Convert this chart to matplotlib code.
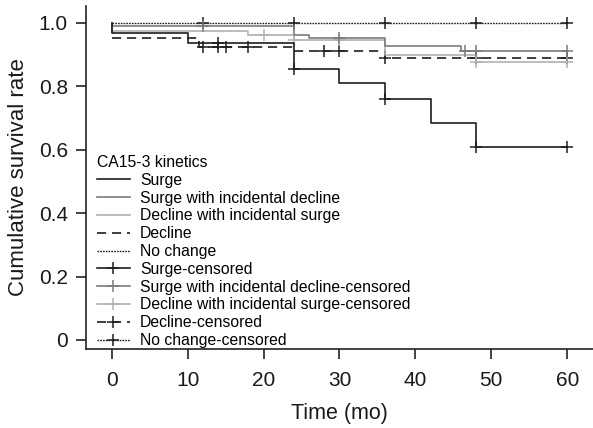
import matplotlib
matplotlib.use("Agg")
import matplotlib.pyplot as plt
from matplotlib.lines import Line2D
import numpy as np

plt.rcParams['font.family'] = ['Liberation Sans', 'DejaVu Sans']

# ---- data ----
surge_t = [0, 0, 10, 24, 30, 36, 42, 48, 60]
surge_s = [1.0, 0.967, 0.935, 0.854, 0.809, 0.760, 0.684, 0.608, 0.608]
surge_c = [14, 24, 36, 48, 60]

sid_t = [0, 0, 24, 26, 36, 46, 60]
sid_s = [1.0, 0.990, 0.961, 0.951, 0.927, 0.912, 0.912]
sid_c = [12, 30, 46.5, 48, 60]

dis_t = [0, 0, 18, 24, 36, 48, 60]
dis_s = [1.0, 0.975, 0.961, 0.945, 0.900, 0.877, 0.877]
dis_c = [20, 24, 30, 48, 60]

dec_t = [0, 0, 11.5, 24, 36, 60]
dec_s = [1.0, 0.951, 0.925, 0.912, 0.888, 0.888]
dec_c = [12, 14, 15, 18, 28, 30, 36, 48, 60]

noc_t = [0, 60]
noc_s = [1.0, 1.0]
noc_c = [12, 24, 36, 48, 60]

x_ticks = [0, 10, 20, 30, 40, 50, 60]
y_ticks = [0, 0.2, 0.4, 0.6, 0.8, 1.0]
y_ticklabels = ['0', '0.2', '0.4', '0.6', '0.8', '1.0']

labels = ['Surge', 'Surge with incidental decline', 'Decline with incidental surge',
          'Decline', 'No change']

# ---- style ----
c_surge = '#1e1e1e'
c_sid = '#7c7c7c'
c_dis = '#b2b2b2'
c_dec = '#1e1e1e'
c_noc = '#1e1e1e'
ls_dash = (0, (5.5, 3.5))
ls_dot = (0, (1.2, 0.8))

series = [
    (surge_t, surge_s, surge_c, c_surge, '-', 1.2),
    (sid_t, sid_s, sid_c, c_sid, '-', 1.2),
    (dis_t, dis_s, dis_c, c_dis, '-', 1.2),
    (dec_t, dec_s, dec_c, c_dec, ls_dash, 1.2),
    (noc_t, noc_s, noc_c, c_noc, ls_dot, 1.0),
]

fig = plt.figure(figsize=(5.93, 4.28), dpi=100)
ax = fig.add_axes([0.145, 0.185, 0.855, 0.801])

def step_val(ts, ss, t):
    v = ss[0]
    for ti, si in zip(ts, ss):
        if ti <= t:
            v = si
    return v

for ts, ss, cs, col, ls, lw in series[::-1]:
    ax.plot(ts, ss, drawstyle='steps-post', color=col, linestyle=ls, lw=lw)
    cy = [step_val(ts, ss, c) for c in cs]
    ax.plot(cs, cy, linestyle='none', marker='+', color=col, ms=8, mew=1.1)

ax.set_xlim(-3.4, 63.4)
ax.set_ylim(-0.028, 1.053)
ax.set_xticks(x_ticks)
ax.set_yticks(y_ticks)
ax.set_yticklabels(y_ticklabels)
ax.tick_params(labelsize=15, length=7, width=1.2, color='#222222', labelcolor='#1a1a1a')
ax.tick_params(axis='x', pad=9)
ax.tick_params(axis='y', pad=6)
for s in ['top', 'right']:
    ax.spines[s].set_visible(False)
for s in ['left', 'bottom']:
    ax.spines[s].set_linewidth(1.2)
    ax.spines[s].set_color('#222222')
ax.set_xlabel('Time (mo)', fontsize=15.5, labelpad=9, color='#1a1a1a')
ax.set_ylabel('Cumulative survival rate', fontsize=16, labelpad=7, color='#1a1a1a')

handles = []
for ts, ss, cs, col, ls, lw in series:
    handles.append(Line2D([], [], color=col, linestyle=ls, lw=lw))
for ts, ss, cs, col, ls, lw in series:
    h = Line2D([0, 0.5, 1], [0, 0, 0], color=col, linestyle=ls, lw=lw, marker='+',
               ms=9, mew=1.1, markevery=[1])
    handles.append(h)
leg_labels = labels + [l + '-censored' for l in labels]
leg = ax.legend(handles, leg_labels, title='CA15-3 kinetics', loc='lower left',
                bbox_to_anchor=(0.0, -0.03), frameon=False, fontsize=11.3,
                title_fontsize=11.3, labelspacing=0.18, handlelength=2.1,
                handletextpad=0.65, borderaxespad=0.3)
leg._legend_box.align = 'left'

fig.savefig('out.png', dpi=100)
